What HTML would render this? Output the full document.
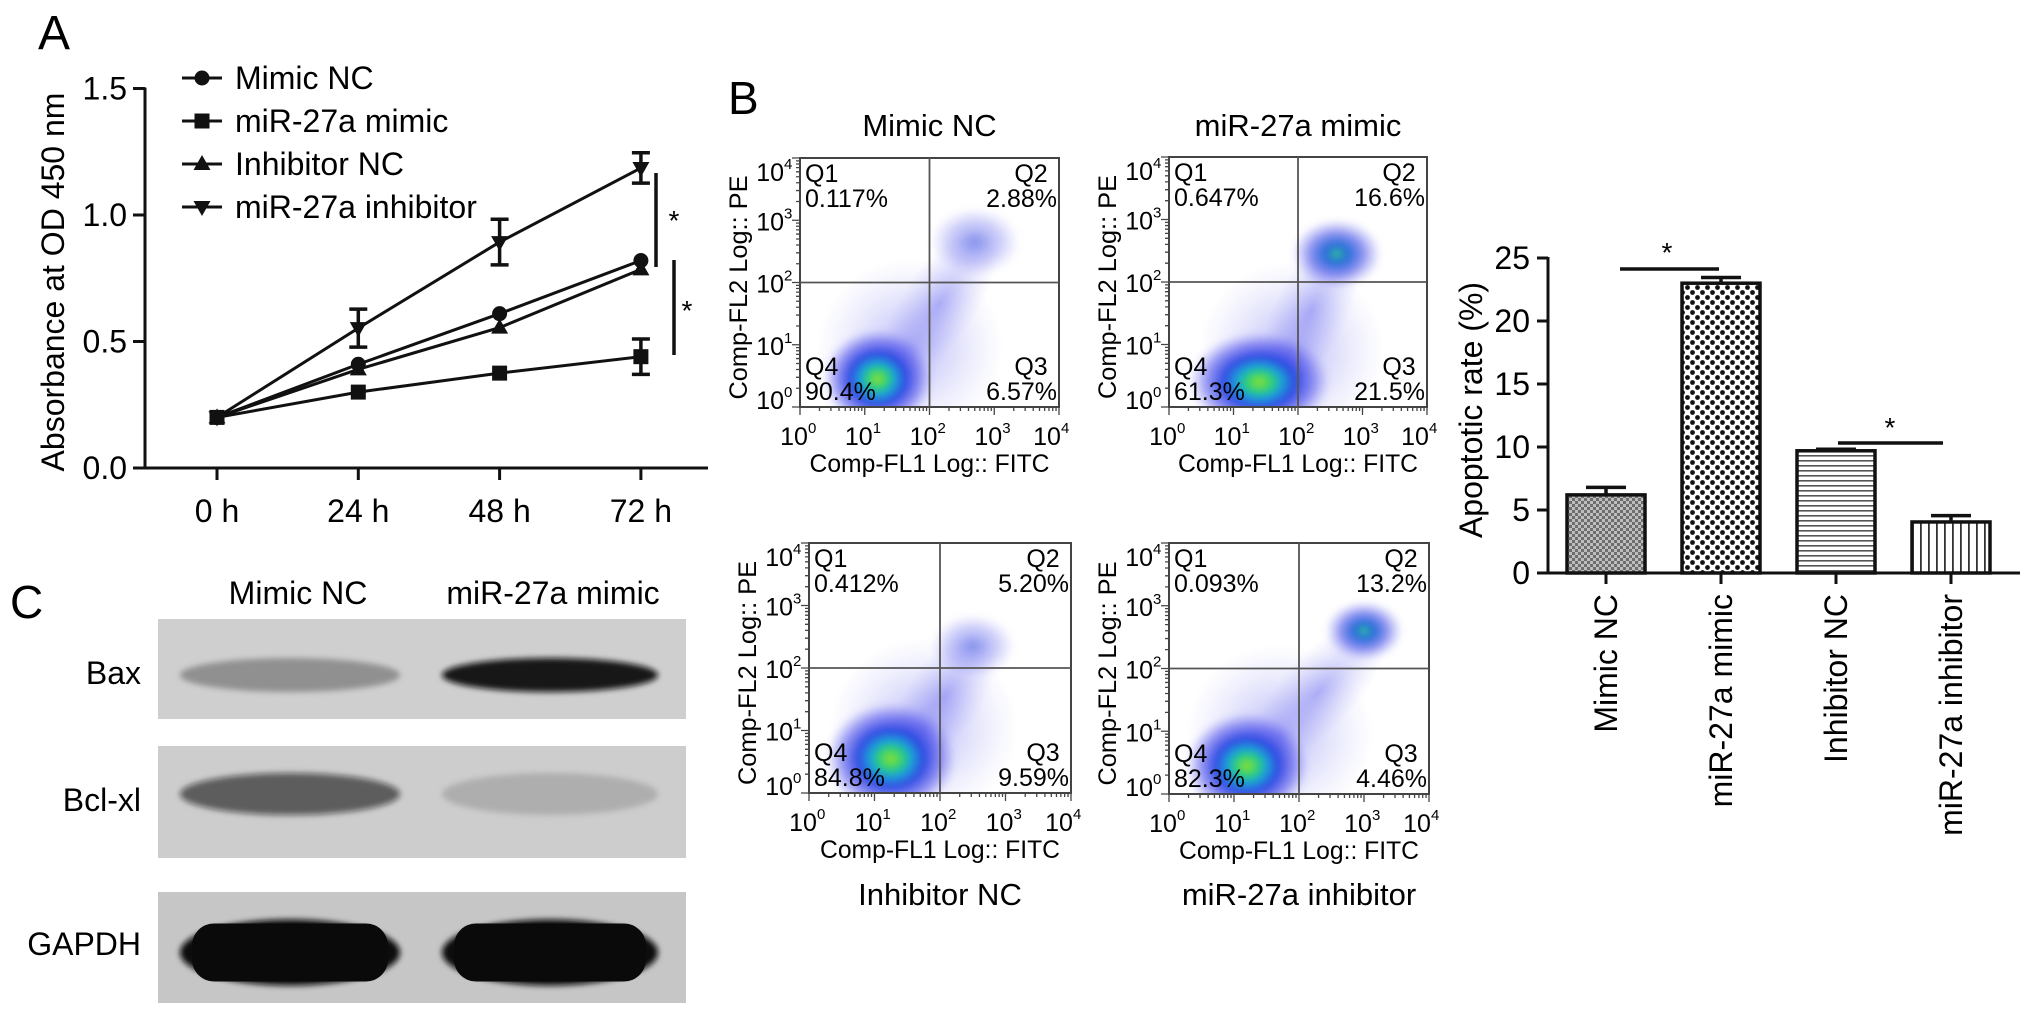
<!DOCTYPE html>
<html><head><meta charset="utf-8">
<style>
html,body{margin:0;padding:0;background:#fff;}
svg{display:block;font-family:"Liberation Sans",Arial,sans-serif;}
</style></head>
<body>
<svg id="fig" width="2032" height="1016" viewBox="0 0 2032 1016" xmlns="http://www.w3.org/2000/svg">
<defs>
  <pattern id="patFine" width="6" height="6" patternUnits="userSpaceOnUse">
    <rect width="6" height="6" fill="#bdbdbd"/>
    <rect width="3" height="3" fill="#6e6e6e"/><rect x="3" y="3" width="3" height="3" fill="#6e6e6e"/>
  </pattern>
  <pattern id="patDots" width="10" height="10" patternUnits="userSpaceOnUse">
    <rect width="10" height="10" fill="#fff"/>
    <circle cx="2.5" cy="2.5" r="2.4" fill="#111"/><circle cx="7.5" cy="7.5" r="2.4" fill="#111"/>
  </pattern>
  <pattern id="patH" width="6" height="5" patternUnits="userSpaceOnUse">
    <rect width="6" height="5" fill="#fff"/><rect y="0" width="6" height="1.6" fill="#555"/>
  </pattern>
  <pattern id="patV" width="8" height="6" patternUnits="userSpaceOnUse">
    <rect width="8" height="6" fill="#fff"/><rect x="0" width="1.8" height="6" fill="#333"/>
  </pattern>
  <radialGradient id="densMain">
    <stop offset="0" stop-color="#8be030"/>
    <stop offset="0.18" stop-color="#2ecf78"/>
    <stop offset="0.32" stop-color="#1aa0d8"/>
    <stop offset="0.5" stop-color="#1d3de0" stop-opacity="0.9"/>
    <stop offset="0.75" stop-color="#3a3ae8" stop-opacity="0.5"/>
    <stop offset="1" stop-color="#6060f0" stop-opacity="0"/>
  </radialGradient>
  <radialGradient id="densTeal">
    <stop offset="0" stop-color="#2fb8a0"/>
    <stop offset="0.25" stop-color="#2a70d8"/>
    <stop offset="0.6" stop-color="#3b45e6" stop-opacity="0.55"/>
    <stop offset="1" stop-color="#7070f0" stop-opacity="0"/>
  </radialGradient>
  <radialGradient id="densBlue">
    <stop offset="0" stop-color="#3a50e0" stop-opacity="0.6"/>
    <stop offset="0.6" stop-color="#6868ee" stop-opacity="0.3"/>
    <stop offset="1" stop-color="#9090f5" stop-opacity="0"/>
  </radialGradient>
  <radialGradient id="densFaint">
    <stop offset="0" stop-color="#5a5aee" stop-opacity="0.45"/>
    <stop offset="1" stop-color="#a0a0f5" stop-opacity="0"/>
  </radialGradient>
  <filter id="blurS" x="-50%" y="-50%" width="200%" height="200%"><feGaussianBlur stdDeviation="3"/></filter>
</defs>
</svg>
<script>
// ---------- Panel A data ----------
const timeLabels = ['0 h','24 h','48 h','72 h'];
const seriesNames = ['Mimic NC','miR-27a mimic','Inhibitor NC','miR-27a inhibitor'];
const mimicNC   = [0.20, 0.41, 0.61, 0.82];
const mimicNCErr= [0.01, 0.02, 0.02, 0.02];
const mimic     = [0.20, 0.30, 0.375, 0.44];
const mimicErr  = [0.01, 0.02, 0.015, 0.07];
const inhNC     = [0.20, 0.39, 0.555, 0.785];
const inhNCErr  = [0.01, 0.02, 0.03, 0.02];
const inh       = [0.20, 0.553, 0.893, 1.186];
const inhErr    = [0.01, 0.075, 0.09, 0.06];
const yTicksA   = [0, 0.5, 1.0, 1.5];
const yTickLabelsA = ['0.0','0.5','1.0','1.5'];
// ---------- Panel B bar data ----------
const barCats   = ['Mimic NC','miR-27a mimic','Inhibitor NC','miR-27a inhibitor'];
const barVals   = [6.2, 23.0, 9.7, 4.05];
const barErrs   = [0.6, 0.45, 0.12, 0.5];
const yTicksB   = [0, 5, 10, 15, 20, 25];
// ---------- Flow data ----------
const flowTitles = ['Mimic NC','miR-27a mimic','Inhibitor NC','miR-27a inhibitor'];
const flowQ1 = ['0.117%','0.647%','0.412%','0.093%'];
const flowQ2 = ['2.88%','16.6%','5.20%','13.2%'];
const flowQ3 = ['6.57%','21.5%','9.59%','4.46%'];
const flowQ4 = ['90.4%','61.3%','84.8%','82.3%'];
const mainX  = [1.2, 1.4, 1.25, 1.2];
const mainY  = [0.45, 0.4, 0.55, 0.45];
const mainRx = [0.85, 1.1, 1.0, 0.95];
const mainRy = [0.8, 0.8, 0.9, 0.85];
const upX    = [2.7, 2.6, 2.5, 3.0];
const upY    = [2.65, 2.45, 2.35, 2.6];
const upR    = [0.7, 0.7, 0.65, 0.6];
const upKind = ['densBlue','densTeal','densBlue','densTeal'];

const NS='http://www.w3.org/2000/svg';
const svg=document.getElementById('fig');
function mk(tag, attrs, parent){const e=document.createElementNS(NS,tag);for(const k in attrs)e.setAttribute(k,attrs[k]);(parent||svg).appendChild(e);return e;}
function txt(str, attrs, parent){const e=mk('text',attrs,parent);e.textContent=str;return e;}

// ================= PANEL A =================
const gA=mk('g',{});


const xA=i=>217+i*141.3;
const yA=v=>468-v*253;
let el=txt('A',{x:38,y:49,'font-size':48},gA);


el=mk('line',{x1:145,y1:yA(1.5)-1,x2:145,y2:yA(0)+1.5,stroke:'#111','stroke-width':3},gA);


el=mk('line',{x1:143.5,y1:yA(0),x2:708,y2:yA(0),stroke:'#111','stroke-width':3},gA);


yTicksA.forEach((v,i)=>{
  const t=mk('line',{x1:133,y1:yA(v),x2:145,y2:yA(v),stroke:'#111','stroke-width':3},gA);
  
  
  const l=txt(yTickLabelsA[i],{x:127,y:yA(v)+11,'font-size':32,'text-anchor':'end'},gA);
  
  
});
timeLabels.forEach((s,i)=>{
  const t=mk('line',{x1:xA(i),y1:yA(0),x2:xA(i),y2:yA(0)+12,stroke:'#111','stroke-width':3},gA);
  
  
  const l=txt(s,{x:xA(i),y:522,'font-size':32,'text-anchor':'middle'},gA);
  
  
});
el=txt('Absorbance at OD 450 nm',{x:0,y:0,'font-size':32,'text-anchor':'middle',transform:'translate(64,282) rotate(-90)'},gA);



function marker(kind,cx,cy,parent){
  let m;
  if(kind===0) m=mk('circle',{cx:cx,cy:cy,r:7.5,fill:'#111'},parent);
  else if(kind===1) m=mk('rect',{x:cx-7.5,y:cy-7.5,width:15,height:15,fill:'#111'},parent);
  else if(kind===2) m=mk('polygon',{points:`${cx},${cy-9} ${cx-8.5},${cy+6} ${cx+8.5},${cy+6}`,fill:'#111'},parent);
  else m=mk('polygon',{points:`${cx},${cy+9} ${cx-8.5},${cy-6} ${cx+8.5},${cy-6}`,fill:'#111'},parent);
  return m;
}
const allSeries=[mimicNC,mimic,inhNC,inh];
const allErr=[mimicNCErr,mimicErr,inhNCErr,inhErr];
const seriesKeys=['mimic-nc','mir27a-mimic','inhibitor-nc','mir27a-inhibitor'];
allSeries.forEach((ser,s)=>{
  const g=mk('g',{},gA);
  
  
  const pts=ser.map((v,i)=>xA(i)+','+yA(v)).join(' ');
  const pl=mk('polyline',{points:pts,fill:'none',stroke:'#111','stroke-width':3},g);
  
  
  ser.forEach((v,i)=>{
    const e=allErr[s][i];
    if(e>0.03){
      const eb=mk('path',{d:`M${xA(i)},${yA(v+e)}V${yA(v-e)}M${xA(i)-9},${yA(v+e)}h18M${xA(i)-9},${yA(v-e)}h18`,stroke:'#111','stroke-width':3.5,fill:'none'},g);
      
      
    }
    const m=marker(s,xA(i),yA(v),g);
    
    
  });
});
const legY=[78,121,164,207];
seriesNames.forEach((n,s)=>{
  const g=mk('g',{},gA);
  
  
  mk('line',{x1:182,y1:legY[s],x2:222,y2:legY[s],stroke:'#111','stroke-width':3},g);
  marker(s,202,legY[s],g);
  txt(n,{x:235,y:legY[s]+11,'font-size':32},g);
});
el=mk('path',{d:'M656,173V267M674,260V355',stroke:'#111','stroke-width':3.5,fill:'none'},gA);


el=txt('*',{x:674,y:230,'font-size':28,'text-anchor':'middle'},gA);


el=txt('*',{x:687,y:320,'font-size':28,'text-anchor':'middle'},gA);



// ================= PANEL B FLOW =================
el=txt('B',{x:728,y:114,'font-size':46});


const boxes=[
  {x0:800,y0:158,x1:1059,y1:407,ty:136,by:null},
  {x0:1169,y0:157,x1:1427,y1:407,ty:136,by:null},
  {x0:809,y0:543,x1:1071,y1:793,ty:null,by:905},
  {x0:1169,y0:543,x1:1429,y1:794,ty:null,by:905}
];
boxes.forEach((b,p)=>{
  const g=mk('g',{});
  
  
  const W=b.x1-b.x0,H=b.y1-b.y0;
  const fx=d=>b.x0+d*W/4, fy=d=>b.y1-d*H/4;
  const cx=(b.x0+b.x1)/2;
  const cid='clip'+p;
  const cp=mk('clipPath',{id:cid},g);
  mk('rect',{x:b.x0,y:b.y0,width:W,height:H},cp);
  const dg=mk('g',{'clip-path':`url(#${cid})`},g);
  
  
  const sx1=fx(mainX[p]+0.5), sy1=fy(mainY[p]+0.5), sx2=fx(upX[p]-0.1), sy2=fy(upY[p]-0.3);
  const len=Math.hypot(sx2-sx1,sy2-sy1), ang=Math.atan2(sy2-sy1,sx2-sx1)*180/Math.PI;
  mk('ellipse',{cx:(sx1+sx2)/2,cy:(sy1+sy2)/2,rx:len/2+35,ry:38,fill:'url(#densFaint)',transform:`rotate(${ang} ${(sx1+sx2)/2} ${(sy1+sy2)/2})`},dg);
  mk('ellipse',{cx:fx(mainX[p]+0.5),cy:fy(mainY[p]+0.5),rx:W*0.36,ry:H*0.36,fill:'url(#densFaint)'},dg);
  mk('ellipse',{cx:fx(upX[p]),cy:fy(upY[p]),rx:upR[p]*W/4,ry:upR[p]*H/4*0.8,fill:`url(#${upKind[p]})`,filter:'url(#blurS)'},dg);
  mk('ellipse',{cx:fx(mainX[p]),cy:fy(mainY[p]),rx:mainRx[p]*W/4,ry:mainRy[p]*H/4,fill:'url(#densMain)',filter:'url(#blurS)'},dg);
  mk('rect',{x:b.x0,y:b.y0,width:W,height:H,fill:'none',stroke:'#444','stroke-width':2},g);
  const q=mk('path',{d:`M${fx(2)},${b.y0}V${b.y1}M${b.x0},${fy(2)}H${b.x1}`,stroke:'#555','stroke-width':1.8},g);
  
  
  let d='';
  for(let k=0;k<4;k++){for(let m=1;m<10;m++){const v=k+Math.log10(m);const len=m===1?8:4;
    d+=`M${fx(v)},${b.y1}v${len}M${b.x0},${fy(v)}h-${len}`;}}
  d+=`M${b.x1},${b.y1}v8M${b.x0},${b.y0}h-8`;
  mk('path',{d:d,stroke:'#444','stroke-width':1.3},g);
  for(let k=0;k<=4;k++){
    let ly=fy(k)+10; if(k===4) ly+=13; if(k===0) ly-=8;
    const t=mk('text',{x:b.x0-16,y:ly,'font-size':25,'text-anchor':'end'},g);
    t.textContent='10';
    
    
    txt(String(k),{x:b.x0-16,y:ly-12,'font-size':15},g);
    let lx=fx(k); if(k===4) lx-=6;
    const t2=txt('10',{x:lx-6,y:b.y1+38,'font-size':25,'text-anchor':'middle'},g);
    
    
    txt(String(k),{x:lx+8,y:b.y1+26,'font-size':15},g);
  }
  const xt=txt('Comp-FL1 Log:: FITC',{x:cx,y:b.y1+65,'font-size':25,'text-anchor':'middle',textLength:240,lengthAdjust:'spacingAndGlyphs'},g);
  
  
  const yt=txt('Comp-FL2 Log:: PE',{x:0,y:0,'font-size':25,'text-anchor':'middle',textLength:224,lengthAdjust:'spacingAndGlyphs',transform:`translate(${b.x0-53},${(b.y0+b.y1)/2+5}) rotate(-90)`},g);
  
  
  const fs=25;
  txt('Q1',{x:b.x0+5,y:b.y0+24,'font-size':fs},g);
  txt(flowQ1[p],{x:b.x0+5,y:b.y0+49,'font-size':fs},g);
  txt('Q2',{x:b.x1-28,y:b.y0+24,'font-size':fs,'text-anchor':'middle'},g);
  txt(flowQ2[p],{x:b.x1-2,y:b.y0+49,'font-size':fs,'text-anchor':'end'},g);
  txt('Q4',{x:b.x0+5,y:b.y1-32,'font-size':fs},g);
  txt(flowQ4[p],{x:b.x0+5,y:b.y1-7,'font-size':fs},g);
  txt('Q3',{x:b.x1-28,y:b.y1-32,'font-size':fs,'text-anchor':'middle'},g);
  txt(flowQ3[p],{x:b.x1-2,y:b.y1-7,'font-size':fs,'text-anchor':'end'},g);
  const tt=txt(flowTitles[p],{x:cx,y:(b.ty||b.by),'font-size':31,'text-anchor':'middle'},g);
  
  
});

// ================= PANEL B BAR =================
const gB=mk('g',{});


const xB=i=>1606+i*115;
const yB=v=>573-v*12.6;
const pats=['patFine','patDots','patH','patV'];
barVals.forEach((v,i)=>{
  const r=mk('rect',{x:xB(i)-39,y:yB(v),width:78,height:yB(0)-yB(v),fill:`url(#${pats[i]})`,stroke:'#111','stroke-width':3.5},gB);
  
  
  const e=barErrs[i];
  const eb=mk('path',{d:`M${xB(i)},${yB(v)}V${yB(v+e)}M${xB(i)-20},${yB(v+e)}h40`,stroke:'#111','stroke-width':3.5,fill:'none'},gB);
  
  
});
el=mk('line',{x1:1548,y1:yB(25)-1,x2:1548,y2:yB(0),stroke:'#111','stroke-width':3},gB);


el=mk('line',{x1:1540,y1:yB(0),x2:2020,y2:yB(0),stroke:'#111','stroke-width':3},gB);


yTicksB.forEach(v=>{
  const t=mk('line',{x1:1537,y1:yB(v),x2:1548,y2:yB(v),stroke:'#111','stroke-width':3},gB);
  
  
  const l=txt(String(v),{x:1530,y:yB(v)+11,'font-size':32,'text-anchor':'end'},gB);
  
  
});
barCats.forEach((c,i)=>{
  const t=mk('line',{x1:xB(i),y1:yB(0),x2:xB(i),y2:yB(0)+11,stroke:'#111','stroke-width':3},gB);
  
  
  const l=txt(c,{x:0,y:0,'font-size':32,'text-anchor':'end',transform:`translate(${xB(i)+11},594) rotate(-90)`},gB);
  
  
});
el=txt('Apoptotic  rate (%)',{x:0,y:0,'font-size':32,'text-anchor':'middle',transform:'translate(1482,410) rotate(-90)'},gB);


el=mk('path',{d:`M1620,269H1719M1838,443H1943`,stroke:'#111','stroke-width':3.5},gB);


el=txt('*',{x:1667,y:262,'font-size':28,'text-anchor':'middle'},gB);


el=txt('*',{x:1890,y:437,'font-size':28,'text-anchor':'middle'},gB);



// ================= PANEL C WESTERN =================
const gC=mk('g',{});


el=txt('C',{x:10,y:618,'font-size':46},gC);


el=txt('Mimic NC',{x:298,y:604,'font-size':32,'text-anchor':'middle'},gC);


el=txt('miR-27a mimic',{x:553,y:604,'font-size':32,'text-anchor':'middle'},gC);


const blotNames=['Bax','Bcl-xl','GAPDH'];
const blotY0=[619,746,892], blotY1=[719,858,1003];
const blotBg=['#cfcfcf','#cdcdcd','#c6c6c6'];
const laneIntensity=[[0.3,0.95],[0.6,0.15],[1,1]];
const bandH=[26,34,58];
blotNames.forEach((n,r)=>{
  const g=mk('g',{},gC);
  
  
  mk('rect',{x:158,y:blotY0[r],width:528,height:blotY1[r]-blotY0[r],fill:blotBg[r]},g);
  const cy=(blotY0[r]+blotY1[r])/2+(r===0?6:r===1?-8:5);
  [[290,110],[550,108]].forEach((ln,l)=>{
    const a=laneIntensity[r][l];
    const b=mk('ellipse',{cx:ln[0],cy:cy,rx:ln[1],ry:bandH[r]/2+4,fill:'#111','fill-opacity':a,filter:'url(#blurS)'},g);
    
    
    if(r===2){mk('rect',{x:ln[0]-ln[1]+12,y:cy-bandH[r]/2,width:2*ln[1]-24,height:bandH[r],rx:22,fill:'#0a0a0a'},g);}
  });
  const l=txt(n,{x:141,y:(r===0?684:r===1?811:955),'font-size':32,'text-anchor':'end'},g);
  
  
});
</script>
</body></html>
